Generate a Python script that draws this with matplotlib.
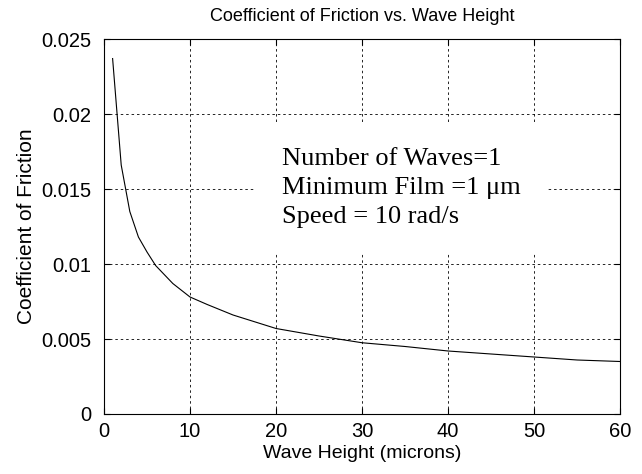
import matplotlib.pyplot as plt

# Datos
wave_height = [1, 2, 3, 4, 5, 6, 8, 10, 12, 15, 20, 25, 30, 35, 40, 45, 50, 55, 60]
friction = [0.0237, 0.0166, 0.0135, 0.0118, 0.0108, 0.0099, 0.0087, 0.0078,
            0.0073, 0.0066, 0.0057, 0.0052, 0.00475, 0.0045, 0.0042, 0.0040,
            0.0038, 0.0036, 0.0035]
xticks = [0, 10, 20, 30, 40, 50, 60]
yticks = [0, 0.005, 0.01, 0.015, 0.02, 0.025]
ytick_labels = ['0', '0.005', '0.01', '0.015', '0.02', '0.025']
note_lines = ['Number of Waves=1', 'Minimum Film =1 \u03bcm', 'Speed = 10 rad/s']

plt.rcParams['font.family'] = ['Liberation Sans', 'DejaVu Sans']

fig = plt.figure(figsize=(6.42, 4.74), dpi=100)
ax = fig.add_axes([0.162, 0.1266, 0.804, 0.791])

ax.plot(wave_height, friction, color='black', linewidth=0.8)

ax.set_xlim(0, 60)
ax.set_ylim(0, 0.025)
ax.set_xticks(xticks)
ax.set_yticks(yticks)
ax.set_yticklabels(ytick_labels)
ax.tick_params(direction='in', length=4, width=0.8, labelsize=14.5,
               top=True, right=True, pad=6)
ax.tick_params(axis='y', pad=9)
ax.grid(True, color='black', linestyle=(0, (3, 3.5)), linewidth=0.6)
for s in ax.spines.values():
    s.set_linewidth(0.8)

ax.set_title('Coefficient of Friction vs. Wave Height', fontsize=13, pad=13)
ax.set_xlabel('Wave Height (microns)', fontsize=14, labelpad=3)
ax.set_ylabel('Coefficient of Friction', fontsize=15, labelpad=4)

# Texto de condiciones (y = linea base de la ultima linea)
ax.text(20.7, 0.01273, '\n'.join(note_lines), family='Liberation Serif',
        fontsize=19, va='baseline', ha='left', linespacing=1.40,
        bbox=dict(boxstyle='square,pad=1.0', facecolor='white', edgecolor='none'))

fig.savefig('out.png', dpi=100)
